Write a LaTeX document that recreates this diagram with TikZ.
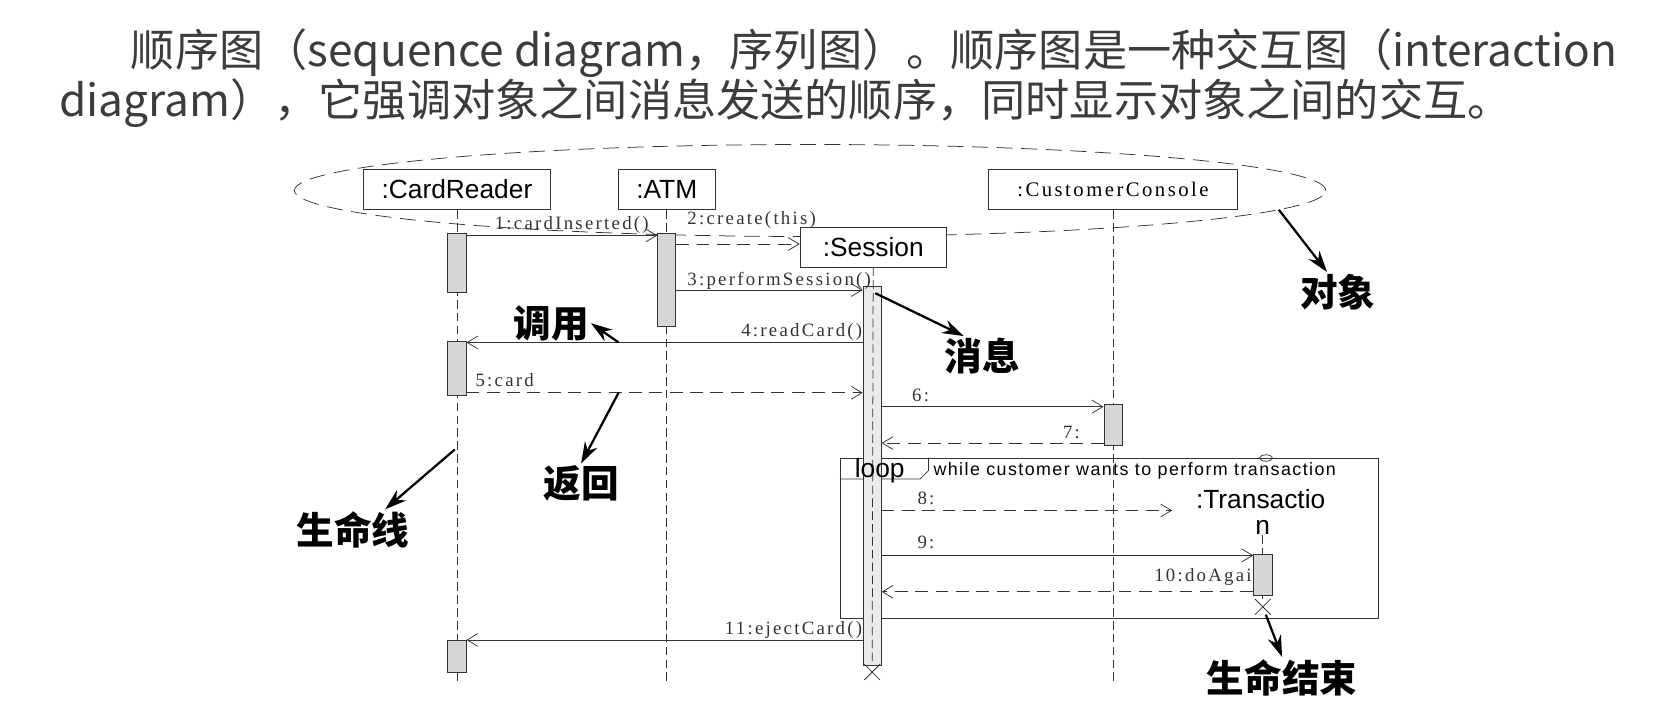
\documentclass[tikz,border=0pt]{standalone}
\usepackage{fontspec}
\setmainfont{Liberation Serif}
\setsansfont{Liberation Sans}
\newfontfamily\cjk{Noto Sans CJK SC}
\newfontfamily\msgfont[LetterSpace=12]{Liberation Serif}
\newfontfamily\condfont[LetterSpace=8]{Liberation Sans}
\usetikzlibrary{arrows.meta,shapes.misc}
\definecolor{headgray}{HTML}{3C3C3C}
\definecolor{linegray}{HTML}{333333}
\definecolor{actgray}{HTML}{D6D6D6}
\tikzset{
  obj/.style={draw=linegray, fill=white, font=\sffamily\fontsize{14}{14}\selectfont, minimum height=0.76cm, inner sep=0pt},
  actbar/.style={draw=linegray, fill=actgray, minimum width=0.34cm, inner sep=0pt},
  life/.style={draw=linegray, dash pattern=on 0.16cm off 0.08cm},
  msg/.style={draw=linegray, -{Straight Barb[length=0.2cm, width=0.24cm]}},
  ret/.style={msg, dash pattern=on 0.24cm off 0.14cm},
  msglbl/.style={font=\msgfont\fontsize{10}{10}\selectfont, inner sep=0pt, text=linegray},
  note/.style={font=\cjk\bfseries\fontsize{20}{20}\selectfont, inner sep=1pt},
  pointer/.style={line width=1.2pt, -{Stealth[length=0.4cm, width=0.26cm]}},
  endmark/.style={draw=linegray, cross out, minimum size=0.28cm, inner sep=0pt},
}
\begin{document}
\begin{tikzpicture}[x=0.02cm, y=-0.02cm]
    \useasboundingbox (0,0) rectangle (1568,669);
    % header text
    \node[anchor=west, inner sep=0pt, text=headgray, font=\cjk\fontsize{23.5}{23.5}\selectfont] (head1) at (122,50) {顺序图（sequence diagram，序列图）。顺序图是一种交互图（interaction};
    \node[anchor=west, inner sep=0pt, text=headgray, font=\cjk\fontsize{23.5}{23.5}\selectfont] (head2) at (55,96) {diagram），它强调对象之间消息发送的顺序，同时显示对象之间的交互。};
    % objects
    \draw[draw=linegray, dash pattern=on 0.3cm off 0.16cm] (757,178) ellipse [x radius=9.64cm, y radius=0.86cm];
    \node[obj, minimum width=3.5cm] (cr) at (427,177) {:CardReader};
    \node[obj, minimum width=1.82cm] (atm) at (623,177) {:ATM};
    \node[obj, minimum width=4.66cm, font=\msgfont\fontsize{11}{11}\selectfont] (cc) at (1040,177) {:CustomerConsole};
    \node[obj, minimum width=2.74cm, minimum height=0.74cm] (ses) at (816,231) {:Session};
    % loop frame
    \node[draw=linegray, minimum width=10.06cm, minimum height=3cm, inner sep=0pt] (loopBox) at (1036.5,503) {};
    \draw[draw=linegray] (loopBox.north west) ++(0,20) -- ++(75,0) -- ++(8,-8) -- ++(0,-12);
    \node[anchor=west, inner sep=0pt, font=\condfont\fontsize{9.5}{9.5}\selectfont] (loopCond) at (872,440) {while customer wants to perform transaction};
    \draw[draw=linegray] (1183,428) ellipse [x radius=0.12cm, y radius=0.06cm];
    % lifelines
    \coordinate (crEnd) at (427,640);
    \coordinate (atmEnd) at (623,640);
    \coordinate (ccEnd) at (1040,640);
    \draw[life] (cr) -- (crEnd);
    \draw[life] (atm) -- (atmEnd);
    \draw[life] (cc) -- (ccEnd);
    % activations
    \node[actbar, minimum height=1.1cm] (crA1) at (427,245.5) {};
    \node[actbar, minimum height=1.0cm] (crA2) at (427,344) {};
    \node[actbar, minimum height=0.6cm] (crA3) at (427,613) {};
    \node[actbar, minimum height=1.74cm] (atmA) at (623,261.5) {};
    \node[actbar, minimum height=7.08cm, fill=actgray!50] (sesA) at (815,445) {};
    \node[actbar, minimum height=0.76cm] (ccA) at (1040,397) {};
    \node[actbar, minimum height=0.76cm] (trA) at (1180,537) {};
    \node[endmark] (sesEnd) at (815,628) {};
    \draw[life] (ses) -- (sesEnd);
    \node[inner sep=0pt, font=\sffamily\fontsize{14}{14}\selectfont] (loopTag) at (822,440) {loop};
    % transaction
    \node[inner sep=0pt, font=\sffamily\fontsize{14}{14}\selectfont] (trName) at (1178,466) {:Transactio};
    \node[inner sep=0pt, font=\sffamily\fontsize{14}{14}\selectfont] (trName2) at (1180,493) {n};
    \node[endmark] (trEnd) at (1180,567) {};
    \draw[life] (trName2) -- (trA);
    \draw[life] (trA) -- (trEnd);
    % messages
    \coordinate (m1) at (0,220);
    \coordinate (m2) at (0,228);
    \coordinate (m3) at (0,271);
    \coordinate (m4) at (0,320);
    \coordinate (m5) at (0,367);
    \coordinate (m6) at (0,380);
    \coordinate (m7) at (0,414);
    \coordinate (m8) at (0,477);
    \coordinate (m9) at (0,519);
    \coordinate (m10) at (0,553);
    \coordinate (m11) at (0,598);
    \draw[msg] (crA1.east |- m1) -- (atmA.west |- m1);
    \draw[ret] (atmA.east |- m2) -- (ses.west |- m2);
    \draw[msg] (atmA.east |- m3) -- (sesA.west |- m3);
    \draw[msg] (sesA.west |- m4) -- (crA2.east |- m4);
    \draw[ret] (crA2.east |- m5) -- (sesA.west |- m5);
    \draw[msg] (sesA.east |- m6) -- (ccA.west |- m6);
    \draw[ret] (ccA.west |- m7) -- (sesA.east |- m7);
    \draw[ret, shorten >=0.44cm] (sesA.east |- m8) -- (trName.west |- m8);
    \draw[msg] (sesA.east |- m9) -- (trA.west |- m9);
    \draw[ret] (trA.west |- m10) -- (sesA.east |- m10);
    \draw[msg] (sesA.west |- m11) -- (crA3.east |- m11);
    \node[msglbl, anchor=base west] (l1) at (462,214) {1:cardInserted()};
    \node[msglbl, anchor=base west] (l2) at (642,210) {2:create(this)};
    \node[msglbl, anchor=base west] (l3) at (642,267) {3:performSession()};
    \node[msglbl, anchor=base east] (l4) at (806,314) {4:readCard()};
    \node[msglbl, anchor=base west] (l5) at (444,361) {5:card};
    \node[msglbl, anchor=base west] (l6) at (852,375) {6:};
    \node[msglbl, anchor=base west] (l7) at (993,410) {7:};
    \node[msglbl, anchor=base west] (l8) at (857,471) {8:};
    \node[msglbl, anchor=base west] (l9) at (857,513) {9:};
    \node[msglbl, anchor=base east] (l10) at (1170,543) {10:doAgai};
    \node[msglbl, anchor=base east] (l11) at (806,593) {11:ejectCard()};
    % annotations
    \node[note] (tiaoyong) at (515,302) {调用};
    \node[note] (xiaoxi) at (918,333) {消息};
    \node[note] (duixiang) at (1250,273) {对象};
    \node[note] (fanhui) at (543,452) {返回};
    \node[note] (shengmingxian) at (330,495) {生命线};
    \node[note] (shengmingjieshu) at (1198,633) {生命结束};
    \coordinate (callPt) at (578,320);
    \coordinate (msgPt) at (818,274);
    \coordinate (objPt) at (1195,196);
    \coordinate (retPt) at (578,367);
    \coordinate (lifePt) at (425,420);
    \draw[pointer] (callPt) -- (tiaoyong.east);
    \draw[pointer] (msgPt) -- ([xshift=-0.35cm]xiaoxi.north);
    \draw[pointer] (objPt) -- ([xshift=-0.2cm]duixiang.north);
    \draw[pointer] (retPt) -- (fanhui.north);
    \draw[pointer] (lifePt) -- ([xshift=0.6cm]shengmingxian.north);
    \draw[pointer] (trEnd) -- (shengmingjieshu.north);
\end{tikzpicture}
\end{document}
